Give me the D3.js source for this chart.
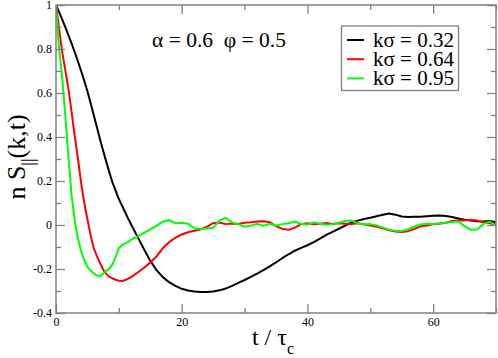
<!DOCTYPE html>
<html>
<head>
<meta charset="utf-8">
<script src="https://cdn.jsdelivr.net/npm/d3@7"></script>
<style>
  html, body { margin: 0; padding: 0; background: #fff; }
  svg { display: block; }
</style>
</head>
<body>
<svg id="chart" width="498" height="358"></svg>
<script>
const times = [0,0.5,1,1.5,2,2.5,3,3.5,4,4.5,5,5.5,6,6.5,7,7.5,8,8.5,9,9.5,10,10.5,11,11.5,12,
  13,14,15,16,17,18,19,20,21,22,23,24,25,26,27,28,29,30,31,32,33,34,35,36,37,38,39,40,
  41,42,43,44,45,46,47,48,49,50,51,52,53,54,55,56,57,58,59,60,61,62,63,64,65,66,67,68,69,70];

const black032 = [1.000,0.968,0.934,0.898,0.861,0.823,0.784,0.743,0.700,0.655,0.608,0.555,0.500,0.445,0.390,0.338,0.287,0.238,0.192,0.155,0.118,0.088,0.058,0.028,0.000,
  -0.055,-0.110,-0.163,-0.205,-0.237,-0.260,-0.277,-0.290,-0.298,-0.302,-0.304,-0.305,-0.302,-0.297,-0.289,-0.277,-0.263,-0.250,-0.236,-0.221,-0.205,-0.188,-0.170,-0.151,-0.133,-0.117,-0.104,-0.092,
  -0.078,-0.062,-0.045,-0.031,-0.017,-0.003,0.012,0.020,0.027,0.033,0.040,0.047,0.052,0.047,0.039,0.036,0.038,0.037,0.040,0.042,0.043,0.041,0.036,0.030,0.024,0.020,0.017,0.016,0.018,0.012];

const red064 = [1.000,0.890,0.785,0.700,0.615,0.510,0.400,0.300,0.190,0.100,0.025,-0.045,-0.105,-0.140,-0.172,-0.203,-0.222,-0.236,-0.243,-0.249,-0.253,-0.255,-0.250,-0.244,-0.236,
  -0.216,-0.194,-0.170,-0.143,-0.105,-0.078,-0.058,-0.043,-0.033,-0.026,-0.020,-0.008,0.008,0.011,0.004,0.007,0.005,0.010,0.012,0.016,0.017,0.013,-0.005,-0.018,-0.022,-0.012,0.004,0.008,
  0.003,0.006,0.009,0.005,0.008,0.006,0.004,0.008,0.003,-0.002,-0.008,-0.015,-0.024,-0.030,-0.032,-0.028,-0.018,-0.006,-0.002,0.003,0.006,0.010,0.018,0.022,0.021,0.024,0.020,0.012,0.008,0.002];

const green095 = [1.000,0.800,0.665,0.490,0.300,0.130,0.015,-0.060,-0.120,-0.160,-0.190,-0.207,-0.220,-0.230,-0.233,-0.222,-0.207,-0.198,-0.178,-0.145,-0.105,-0.092,-0.085,-0.077,-0.066,
  -0.052,-0.036,-0.020,-0.003,0.015,0.022,0.008,0.010,0.006,-0.015,-0.018,-0.016,-0.013,0.020,0.032,0.012,0.004,-0.008,-0.003,0.005,-0.004,0.006,-0.002,0.004,0.008,0.016,0.004,0.002,
  0.012,0.006,0.001,0.004,0.010,0.018,0.020,0.008,0.002,0.004,-0.002,-0.012,-0.022,-0.026,-0.028,-0.020,-0.008,0.002,0.006,0.004,0.008,0.010,0.014,0.016,-0.005,-0.022,-0.020,0.004,0.016,-0.004];

const seriesNames = ["k\u03c3 = 0.32", "k\u03c3 = 0.64", "k\u03c3 = 0.95"];
const seriesColors = ["#000000", "#ff0000", "#00ff00"];
const seriesValues = [black032, red064, green095];

const xMajorTicks = [0, 20, 40, 60];
const xMinorTicks = [10, 30, 50, 70];
const yMajorTicks = [-0.4, -0.2, 0, 0.2, 0.4, 0.6, 0.8, 1];
const yMinorTicks = [-0.3, -0.1, 0.1, 0.3, 0.5, 0.7, 0.9];
const yTickLabels = ["-0.4", "-0.2", "0", "0.2", "0.4", "0.6", "0.8", "1"];

const FONT = "'Liberation Serif'";
const svg = d3.select("#chart");
const L = 56, R = 496, T = 5, B = 313;
const x = d3.scaleLinear().domain([0, 70]).range([L, R]);
const y = d3.scaleLinear().domain([-0.4, 1]).range([B, T]);
const axisColor = "#808080";

svg.append("defs").append("clipPath").attr("id", "clip")
  .append("rect").attr("x", L).attr("y", T).attr("width", R - L).attr("height", B - T);

const line = d3.line().x((d, i) => x(times[i])).y(d => y(d));
const gLines = svg.append("g").attr("clip-path", "url(#clip)");
seriesValues.forEach((vals, k) => {
  gLines.append("path").datum(vals)
    .attr("d", line)
    .attr("fill", "none")
    .attr("stroke", seriesColors[k])
    .attr("stroke-width", 2)
    .attr("stroke-linejoin", "round");
});

const major = 9, minor = 5;
function addAxis(axisGen, tr, withLabels) {
  const g = svg.append("g").attr("transform", tr).call(axisGen);
  g.attr("font-family", null).attr("font-size", null);
  g.select(".domain").remove();
  g.selectAll(".tick line").attr("stroke", axisColor).attr("stroke-width", 1.3);
  g.selectAll(".tick text").attr("fill", "#000").style("font-size", "12px")
    .style("font-family", FONT);
  if (!withLabels) g.selectAll(".tick text").remove();
  return g;
}
addAxis(d3.axisBottom(x).tickValues(xMajorTicks).tickSizeInner(-major).tickSizeOuter(0).tickPadding(4).tickFormat(d3.format("d")), `translate(0,${B})`, true);
addAxis(d3.axisBottom(x).tickValues(xMinorTicks).tickSizeInner(-minor).tickSizeOuter(0), `translate(0,${B})`, false);
addAxis(d3.axisTop(x).tickValues(xMajorTicks).tickSizeInner(-major).tickSizeOuter(0), `translate(0,${T})`, false);
addAxis(d3.axisTop(x).tickValues(xMinorTicks).tickSizeInner(-minor).tickSizeOuter(0), `translate(0,${T})`, false);
addAxis(d3.axisLeft(y).tickValues(yMajorTicks).tickSizeInner(-major).tickSizeOuter(0).tickPadding(4)
  .tickFormat((d, i) => yTickLabels[i]), `translate(${L},0)`, true);
addAxis(d3.axisLeft(y).tickValues(yMinorTicks).tickSizeInner(-minor).tickSizeOuter(0), `translate(${L},0)`, false);
addAxis(d3.axisRight(y).tickValues(yMajorTicks).tickSizeInner(-major).tickSizeOuter(0), `translate(${R},0)`, false);
addAxis(d3.axisRight(y).tickValues(yMinorTicks).tickSizeInner(-minor).tickSizeOuter(0), `translate(${R},0)`, false);

svg.append("rect").attr("x", L).attr("y", T).attr("width", R - L).attr("height", B - T)
  .attr("fill", "none").attr("stroke", axisColor).attr("stroke-width", 1.5);

const xt = svg.append("text").attr("x", 273).attr("y", 345).attr("text-anchor", "middle")
  .style("font-size", "24px").style("font-family", FONT).attr("fill", "#000");
xt.append("tspan").text("t / \u03c4");
xt.append("tspan").attr("dy", 9).style("font-size", "16px").text("c");

const yt = svg.append("text").attr("transform", "translate(25,157) rotate(-90)")
  .attr("text-anchor", "middle").style("font-size", "26px").style("font-family", FONT).attr("fill", "#000");
yt.append("tspan").text("n S");
yt.append("tspan").attr("dy", 9).style("font-size", "18px").text("||");
yt.append("tspan").attr("dy", -9).text("(k,t)");

svg.append("text").attr("x", 152).attr("y", 47).style("font-size", "21.5px").style("font-family", FONT)
  .attr("fill", "#000").attr("xml:space", "preserve").text("\u03b1 = 0.6  \u03c6 = 0.5");

const lg = svg.append("g");
lg.append("rect").attr("x", 341.5).attr("y", 26).attr("width", 117).attr("height", 64.5)
  .attr("fill", "#fff").attr("stroke", axisColor).attr("stroke-width", 1.3);
seriesNames.forEach((name, k) => {
  const yy = 40 + k * 19.2;
  lg.append("line").attr("x1", 347).attr("x2", 364).attr("y1", yy).attr("y2", yy)
    .attr("stroke", seriesColors[k]).attr("stroke-width", 2);
  lg.append("text").attr("x", 373).attr("y", yy + 6.5).style("font-size", "21px").style("font-family", FONT)
    .attr("fill", "#000").text(name);
});
</script>
</body>
</html>
